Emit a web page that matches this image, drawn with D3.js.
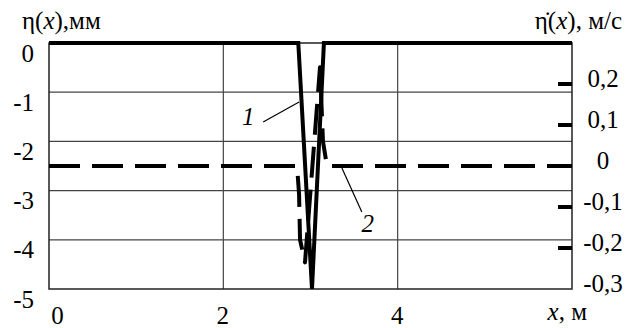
<!DOCTYPE html>
<html><head><meta charset="utf-8">
<script src="https://cdn.jsdelivr.net/npm/d3@7"></script>
<style>
html,body{margin:0;padding:0;background:#fff;}
svg{display:block;}
</style></head>
<body>
<svg id="c" width="637" height="328"></svg>
<script>
// ---- data ----
const xTicks = [0, 2, 4];
const etaTicks = [0, -1, -2, -3, -4, -5];
const velTicks = [0.2, 0.1, 0, -0.1, -0.2, -0.3];
const velTickMarks = [0.2, 0.1, 0, -0.1, -0.2];
const gridX = [2, 4];
const gridEta = [-1, -2, -3, -4];
// curve 1: displacement eta(x), mm
const dispX = [0, 2.86, 3.017, 3.154, 6];
const dispY = [0, 0, -5, 0, 0];
// curve 2: velocity, m/s
const velX = [0, 2.846, 2.869, 2.88, 2.937, 3.109, 3.143, 3.189, 6];
const velY = [0, 0, -0.07, -0.18, -0.235, 0.241, 0.06, 0, 0];

const FONT = '"Liberation Serif"';
const FS = 25;
const svg = d3.select("#c");
const L = 49, R = 572, T = 43, B = 289;
const x = d3.scaleLinear([0, 6], [L, R]);
const yL = d3.scaleLinear([-5, 0], [B, T]);
const yR = d3.scaleLinear([-0.3, 0.3], [B, T]);

// grid
svg.append("g").selectAll("line").data(gridX).join("line")
  .attr("x1", d => x(d)).attr("x2", d => x(d)).attr("y1", T).attr("y2", B)
  .attr("stroke", "#444").attr("stroke-width", 1.2);
svg.append("g").selectAll("line").data(gridEta).join("line")
  .attr("x1", L).attr("x2", R).attr("y1", d => yL(d)).attr("y2", d => yL(d))
  .attr("stroke", "#444").attr("stroke-width", 1.2);
// frame
svg.append("rect").attr("x", L).attr("y", T).attr("width", R - L).attr("height", B - T)
  .attr("fill", "none").attr("stroke", "#222").attr("stroke-width", 1.5);

// left axis labels
const axL = d3.axisLeft(yL).tickValues(etaTicks).tickSize(0).tickPadding(16)
  .tickFormat(d => d === 0 ? "0" : String(d));
const gL = svg.append("g").attr("transform", `translate(${L},0)`).call(axL);
gL.select(".domain").remove();
gL.selectAll("text").style("font-family", FONT).style("font-size", FS + "px")
  .attr("fill", "#000").attr("dy", "0.72em").attr("x", -15);

// bottom axis labels
const gB = svg.append("g").attr("transform", `translate(0,${B})`)
  .call(d3.axisBottom(x).tickValues(xTicks).tickSize(0).tickFormat(d3.format("d")));
gB.select(".domain").remove();
gB.selectAll("text").style("font-family", FONT).style("font-size", FS + "px")
  .attr("fill", "#000").attr("y", 35).attr("dy", 0)
  .attr("dx", d => d === 0 ? 8 : -1);

// right axis tick marks
svg.append("g").selectAll("line").data(velTickMarks).join("line")
  .attr("x1", R - 14).attr("x2", R).attr("y1", d => yR(d)).attr("y2", d => yR(d))
  .attr("stroke", "#000").attr("stroke-width", 4);
// right axis labels
svg.append("g").selectAll("text").data(velTicks).join("text")
  .attr("x", 603).attr("y", d => yR(d) + 3).attr("text-anchor", "middle")
  .style("font-family", FONT).style("font-size", FS + "px")
  .text(d => d === 0 ? "0" : d3.format(".1f")(d).replace(".", ",").replace("−", "-"));

// curves
const line = (sx, sy, xs, ys) => d3.line().x((d, i) => sx(xs[i])).y((d, i) => sy(ys[i]))(xs);
svg.append("path").attr("d", line(x, yR, velX, velY))
  .attr("fill", "none").attr("stroke", "#000").attr("stroke-width", 4)
  .attr("stroke-dasharray", "31,12").attr("stroke-linejoin", "round");
svg.append("path").attr("d", line(x, yL, dispX, dispY))
  .attr("fill", "none").attr("stroke", "#000").attr("stroke-width", 4)
  .attr("stroke-linejoin", "miter");

// annotations
svg.append("line").attr("x1", x(2.457)).attr("y1", yL(-1.606)).attr("x2", x(2.869)).attr("y2", yL(-1.2))
  .attr("stroke", "#000").attr("stroke-width", 1.2);
svg.append("text").attr("x", x(2.286)).attr("y", yL(-1.67)).attr("text-anchor", "middle")
  .style("font-family", FONT).style("font-size", FS + "px").style("font-style", "italic").text("1");
svg.append("line").attr("x1", x(3.36)).attr("y1", yR(-0.005)).attr("x2", x(3.589)).attr("y2", yR(-0.112))
  .attr("stroke", "#000").attr("stroke-width", 1.2);
svg.append("text").attr("x", x(3.657)).attr("y", yR(-0.161)).attr("text-anchor", "middle")
  .style("font-family", FONT).style("font-size", FS + "px").style("font-style", "italic").text("2");

// titles
const t1 = svg.append("text").attr("x", 22).attr("y", 29)
  .style("font-family", FONT).style("font-size", FS + "px");
t1.append("tspan").text("η(");
t1.append("tspan").style("font-style", "italic").text("x");
t1.append("tspan").text("),мм");

const t2 = svg.append("text").attr("x", 622).attr("y", 29).attr("text-anchor", "end")
  .style("font-family", FONT).style("font-size", FS + "px");
t2.append("tspan").text("η\u0307(");
t2.append("tspan").style("font-style", "italic").text("x");
t2.append("tspan").text("), м/с");

const t3 = svg.append("text").attr("x", 587).attr("y", 320).attr("text-anchor", "end")
  .style("font-family", FONT).style("font-size", FS + "px");
t3.append("tspan").style("font-style", "italic").text("x");
t3.append("tspan").text(", м");
</script>
</body></html>
